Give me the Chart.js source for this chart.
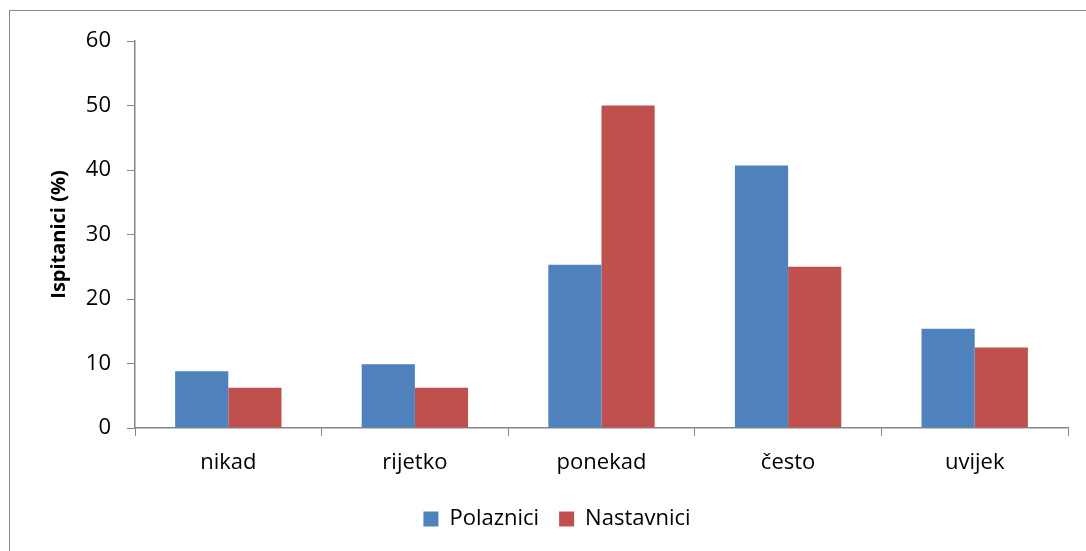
<!DOCTYPE html>
<html>
<head>
<meta charset="utf-8">
<script src="https://cdn.jsdelivr.net/npm/chart.js@4/dist/chart.umd.min.js"></script>
<style>
  html, body { margin: 0; padding: 0; background: #fff; }
  #wrap { position: relative; width: 1086px; height: 551px; overflow: hidden; }
  #frame { position: absolute; left: 9px; top: 10px; width: 1100px; height: 600px; border: 1px solid #8a8a8a; }
  canvas { position: absolute; left: 0; top: 0; }
</style>
</head>
<body>
<div id="wrap">
  <div id="frame"></div>
  <canvas id="myChart" width="1086" height="551"></canvas>
</div>
<script>
const categories = ['nikad', 'rijetko', 'ponekad', 'često', 'uvijek']
const polaznici = [8.8, 9.9, 25.3, 40.7, 15.4]
const nastavnici = [6.25, 6.25, 50, 25, 12.5]
const yTicks = [0, 10, 20, 30, 40, 50, 60]

const fontFamily = "'Open Sans', 'Noto Sans', sans-serif"
const axisGray = '#868686'

// nudge the legend a bit to the right, like the original
const legendShift = {
    id: 'legendShift',
    afterLayout: chart => {
        chart.legend.left += 46
    }
}

let ctx = document.getElementById('myChart').getContext('2d')
let chart = new Chart(ctx, {
    type: 'bar',
    data: {
        labels: categories,
        datasets: [{
            label: 'Polaznici',
            data: polaznici,
            backgroundColor: '#4F81BD'
        }, {
            label: 'Nastavnici',
            data: nastavnici,
            backgroundColor: '#C0504D'
        }]
    },
    options: {
        responsive: false,
        animation: false,
        layout: {
            padding: { left: 0, right: 18, top: 41, bottom: 11 }
        },
        datasets: {
            bar: { categoryPercentage: 0.57, barPercentage: 1.0 }
        },
        plugins: {
            legend: {
                position: 'bottom',
                labels: {
                    color: '#000',
                    boxWidth: 15,
                    boxHeight: 15,
                    padding: 20,
                    font: { family: fontFamily, size: 22 }
                }
            },
            tooltip: { enabled: false }
        },
        scales: {
            x: {
                afterFit: scale => { scale.height = 60 },
                grid: {
                    offset: true,
                    drawOnChartArea: false,
                    drawTicks: true,
                    tickLength: 8,
                    color: axisGray
                },
                border: { color: axisGray, width: 1.5 },
                ticks: {
                    color: '#000',
                    padding: 14,
                    font: { family: fontFamily, size: 22 }
                }
            },
            y: {
                min: 0,
                max: 60,
                afterBuildTicks: scale => { scale.ticks = yTicks.map(v => ({ value: v })) },
                afterFit: scale => { scale.width = 135 },
                grid: {
                    drawOnChartArea: false,
                    drawTicks: true,
                    tickLength: 8,
                    color: axisGray
                },
                border: { color: axisGray, width: 1.5 },
                ticks: {
                    color: '#000',
                    padding: 16,
                    font: { family: fontFamily, size: 22 }
                },
                title: {
                    display: true,
                    text: 'Ispitanici (%)',
                    color: '#000',
                    padding: { top: 47, bottom: 0 },
                    font: { family: fontFamily, size: 20, weight: 'bold' }
                }
            }
        }
    },
    plugins: [legendShift]
})
</script>
</body>
</html>
